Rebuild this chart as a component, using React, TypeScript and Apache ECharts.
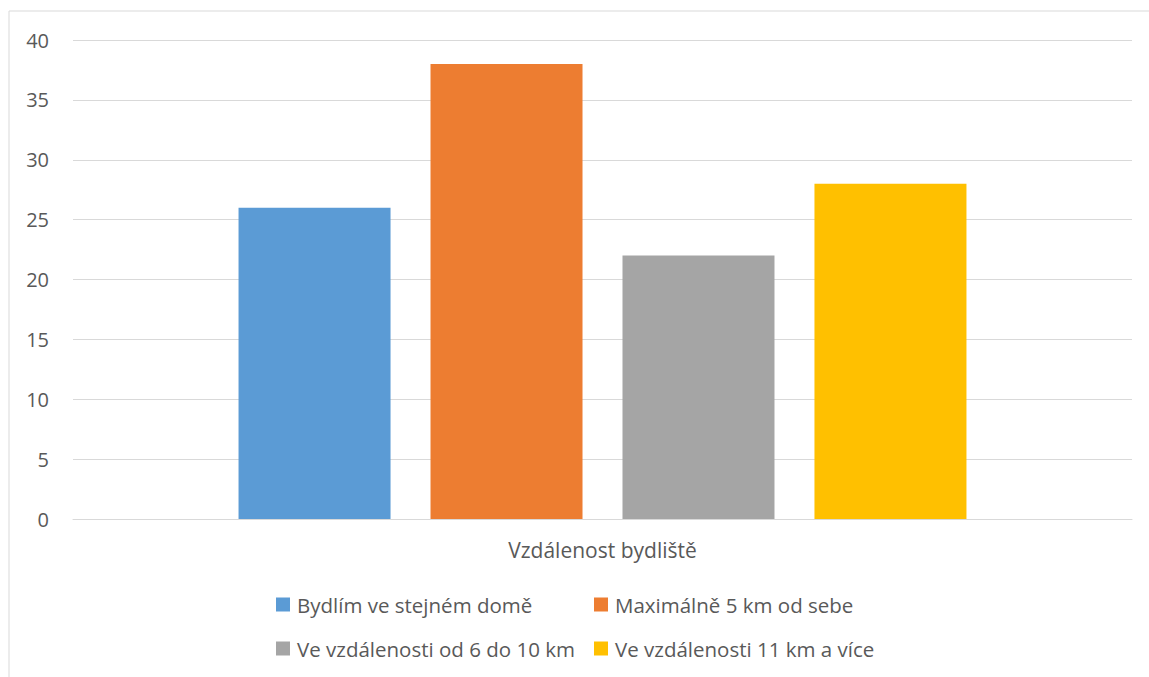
import React, { useEffect, useRef } from "react";
import * as echarts from "echarts";

const categories = ["Vzdálenost bydliště"];
const seriesNames = [
  "Bydlím ve stejném domě",
  "Maximálně 5 km od sebe",
  "Ve vzdálenosti od 6 do 10 km",
  "Ve vzdálenosti 11 km a více",
];
const seriesValues = [[26], [38], [22], [28]];
const colors = ["#5B9BD5", "#ED7D31", "#A5A5A5", "#FFC000"];
const legendPos = [
  { left: 276, top: 594 },
  { left: 594, top: 594 },
  { left: 276, top: 638 },
  { left: 594, top: 638 },
];

const FONT = "'Open Sans', 'Noto Sans', sans-serif";

export default function App() {
  const ref = useRef<HTMLDivElement>(null);
  useEffect(() => {
    if (!ref.current) return;
    const chart = echarts.init(ref.current, undefined, { renderer: "svg" });
    chart.setOption({
      animation: false,
      backgroundColor: "#ffffff",
      textStyle: { fontFamily: FONT },
      graphic: [
        {
          type: "rect",
          shape: { x: 9, y: 11, width: 1300, height: 800 },
          style: { fill: "none", stroke: "#d9d9d9", lineWidth: 1 },
          silent: true,
        },
      ],
      grid: { left: 73, right: 17, top: 40, bottom: 158, containLabel: false },
      legend: seriesNames.map((n, i) => ({
        data: [n],
        left: legendPos[i].left,
        top: legendPos[i].top,
        padding: 0,
        itemWidth: 14,
        itemHeight: 14,
        itemGap: 7,
        icon: "rect",
        selectedMode: false,
        textStyle: { color: "#595959", fontSize: 20.5, fontFamily: FONT, padding: [0, 0, 0, 2] },
      })),
      xAxis: {
        type: "category",
        data: categories,
        axisLine: { show: true, lineStyle: { color: "#d9d9d9", width: 1 } },
        axisTick: { show: false },
        axisLabel: { color: "#595959", fontSize: 21, margin: 20, fontFamily: FONT },
      },
      yAxis: {
        type: "value",
        min: 0,
        max: 40,
        interval: 5,
        axisLine: { show: false },
        axisTick: { show: false },
        splitLine: { lineStyle: { color: "#d9d9d9", width: 1 } },
        axisLabel: { color: "#595959", fontSize: 20, margin: 24, fontFamily: FONT },
      },
      series: seriesNames.map((n, i) => ({
        name: n,
        type: "bar",
        data: seriesValues[i],
        barWidth: 152,
        barGap: "26.3%",
        itemStyle: { color: colors[i] },
      })),
    });
    return () => chart.dispose();
  }, []);
  return (
    <div
      ref={ref}
      style={{ position: "fixed", left: 0, top: 0, width: 1149, height: 677 }}
    />
  );
}
